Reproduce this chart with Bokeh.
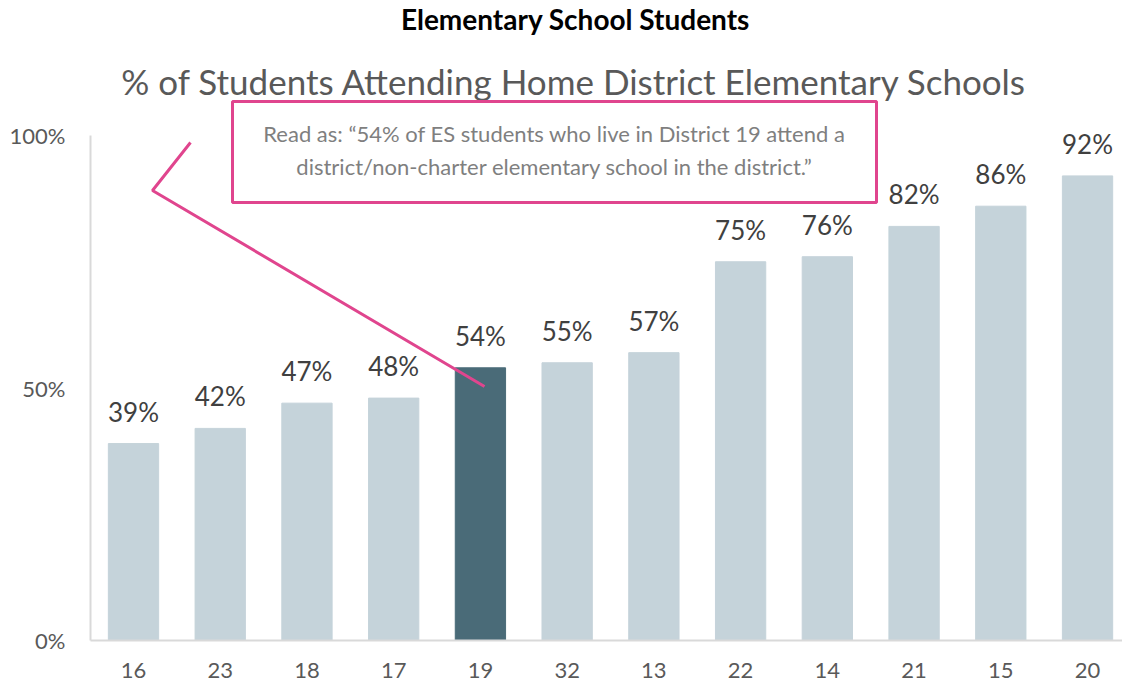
from bokeh.plotting import figure
from bokeh.models import ColumnDataSource, Range1d, FixedTicker, BoxAnnotation, Label
from bokeh.core.properties import value
from bokeh.embed import file_html
from bokeh.resources import INLINE

districts = ["16", "23", "18", "17", "19", "32", "13", "22", "14", "21", "15", "20"]
pct = [39, 42, 47, 48, 54, 55, 57, 75, 76, 82, 86, 92]
highlight = "19"
y_ticks = [0, 50, 100]
y_tick_labels = ["0%", "50%", "100%"]

FONT = "Lato"
W, H = 1122, 689
# pixel calibration (page coords)
X0PX, DXPX = 133.0, 86.73   # centre of first bar, spacing
Y0PX, DYPX = 640.0, 5.05    # y of 0%, px per percentage point

def dx(px):
    return (px - X0PX) / DXPX

def dy(py):
    return (Y0PX - py) / DYPX

xs = list(range(len(districts)))
colors = ["#4A6B78" if d == highlight else "#C5D3DA" for d in districts]
labels = [f"{v}%" for v in pct]
src = ColumnDataSource(dict(x=xs, top=pct, color=colors, label=labels))

p = figure(width=W, height=H, output_backend="svg", toolbar_location=None,
           x_range=Range1d(dx(90), dx(1122)), y_range=Range1d(0, dy(0)),
           min_border_left=90, min_border_right=0, min_border_top=0, min_border_bottom=49)
p.outline_line_color = None
p.grid.visible = False
p.background_fill_color = "white"

p.vbar(x="x", top="top", width=0.58, bottom=0, color="color", source=src)
p.text(x="x", y="top", text="label", source=src, text_align="center", text_baseline="bottom",
       y_offset=-16, text_font=value(FONT), text_font_size="26px", text_color="#404040")

# axes
p.xaxis.ticker = FixedTicker(ticks=xs)
p.xaxis.major_label_overrides = {i: d for i, d in zip(xs, districts)}
p.yaxis.ticker = FixedTicker(ticks=y_ticks)
p.yaxis.major_label_overrides = {t: l for t, l in zip(y_ticks, y_tick_labels)}
p.yaxis.bounds = (0, 100)
for ax in (p.xaxis[0], p.yaxis[0]):
    ax.major_tick_line_color = None
    ax.minor_tick_line_color = None
    ax.major_tick_out = 0
    ax.major_tick_in = 0
    ax.minor_tick_out = 0
    ax.axis_line_color = "#D9D9D9"
    ax.axis_line_width = 2
    ax.major_label_text_font = FONT
    ax.major_label_text_font_size = "22px"
    ax.major_label_text_color = "#595959"
p.xaxis.major_label_standoff = 22
p.yaxis.major_label_standoff = 25

# titles
p.add_layout(Label(x=dx(575), y=dy(18), text="Elementary School Students", text_align="center",
                   text_baseline="middle", text_font=FONT, text_font_style="bold",
                   text_font_size="28px", text_color="#000000"))
p.add_layout(Label(x=dx(574), y=dy(80), text="% of Students Attending Home District Elementary Schools",
                   text_align="center", text_baseline="middle", text_font=FONT,
                   text_font_size="35px", text_color="#595959"))

# annotation callout
p.line(x=[dx(190), dx(152), dx(484)], y=[dy(142), dy(190), dy(386)], line_color="#E0458E", line_width=3)
p.add_layout(BoxAnnotation(left=dx(232), right=dx(876), top=dy(101), bottom=dy(202),
                           fill_color="white", fill_alpha=1.0, line_color="#E0458E",
                           line_alpha=1.0, line_width=3))
p.add_layout(Label(x=dx(554), y=dy(133), text="Read as: “54% of ES students who live in District 19 attend a",
                   text_align="center", text_baseline="middle", text_font=FONT,
                   text_font_size="22px", text_color="#7F7F7F"))
p.add_layout(Label(x=dx(554), y=dy(166), text="district/non-charter elementary school in the district.”",
                   text_align="center", text_baseline="middle", text_font=FONT,
                   text_font_size="22px", text_color="#7F7F7F"))

open("out.html", "w").write(file_html(p, INLINE))
